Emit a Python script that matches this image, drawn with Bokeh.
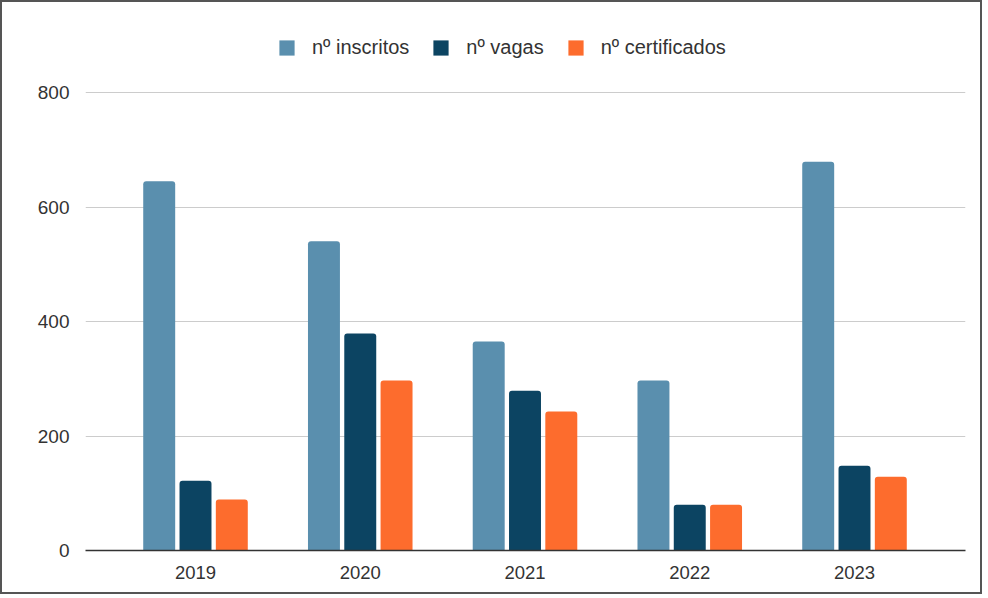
from bokeh.plotting import figure
from bokeh.models import ColumnDataSource, FixedTicker, Legend, LegendItem, Range1d
from bokeh.transform import dodge
from bokeh.embed import file_html
from bokeh.resources import INLINE

years = ["2019", "2020", "2021", "2022", "2023"]
inscritos = [645, 540, 365, 297, 679]
vagas = [122, 379, 279, 80, 148]
certificados = [89, 297, 243, 80, 129]
series_names = ["nº inscritos", "nº vagas", "nº certificados"]
colors = ["#5a8fae", "#0c4462", "#fd6c2d"]
y_ticks = [0, 200, 400, 600, 800]

pos = list(range(len(years)))
src = ColumnDataSource(dict(x=pos, inscritos=inscritos, vagas=vagas, certificados=certificados))

FONT = "Liberation Sans"
TXT = "#333333"

p = figure(width=982, height=594, output_backend="svg", toolbar_location=None,
           x_range=Range1d(-0.6677, 4.6737), y_range=Range1d(0, 922.3),
           min_border_left=83, min_border_right=19, min_border_top=20, min_border_bottom=46)
p.styles = {"border": "2px solid #555555", "box-sizing": "border-box"}
p.outline_line_color = None
p.background_fill_color = "white"
p.border_fill_color = "white"

bw = 0.194
step = 0.2203
renderers = []
for i, (col, c) in enumerate(zip(["inscritos", "vagas", "certificados"], colors)):
    r = p.vbar(x=dodge("x", (i - 1) * step, range=p.x_range), top=col, width=bw, bottom=0,
               source=src, fill_color=c, line_color=None, border_radius=(3, 3, 0, 0))
    renderers.append(r)

p.xaxis.ticker = FixedTicker(ticks=pos)
p.xaxis.major_label_overrides = {i: y for i, y in enumerate(years)}
p.xaxis.axis_line_color = "#333333"
p.xaxis.axis_line_width = 1.5
p.xaxis.major_tick_line_color = None
p.xaxis.minor_tick_line_color = None
p.xaxis.major_label_standoff = 9
p.xaxis.major_label_text_font = FONT
p.xaxis.major_label_text_font_size = "18.5px"
p.xaxis.major_label_text_color = TXT

p.yaxis.ticker = FixedTicker(ticks=y_ticks)
p.yaxis.axis_line_color = None
p.yaxis.major_tick_line_color = None
p.yaxis.minor_tick_line_color = None
p.yaxis.major_label_standoff = 10
p.yaxis.major_label_text_font = FONT
p.yaxis.major_label_text_font_size = "19px"
p.yaxis.major_label_text_color = TXT

p.xgrid.grid_line_color = None
p.ygrid.grid_line_color = "#cccccc"
p.ygrid.grid_line_width = 1

legend = Legend(items=[LegendItem(label=n, renderers=[r]) for n, r in zip(series_names, renderers)],
                orientation="horizontal", location=(192, 491))
legend.glyph_width = 19
legend.glyph_height = 19
legend.label_standoff = 16
legend.spacing = 22
legend.padding = 0
legend.margin = 0
legend.border_line_color = None
legend.background_fill_alpha = 0
legend.label_text_font = FONT
legend.label_text_font_size = "20px"
legend.label_text_color = TXT
p.add_layout(legend, "center")

open("out.html", "w").write(file_html(p, INLINE))
